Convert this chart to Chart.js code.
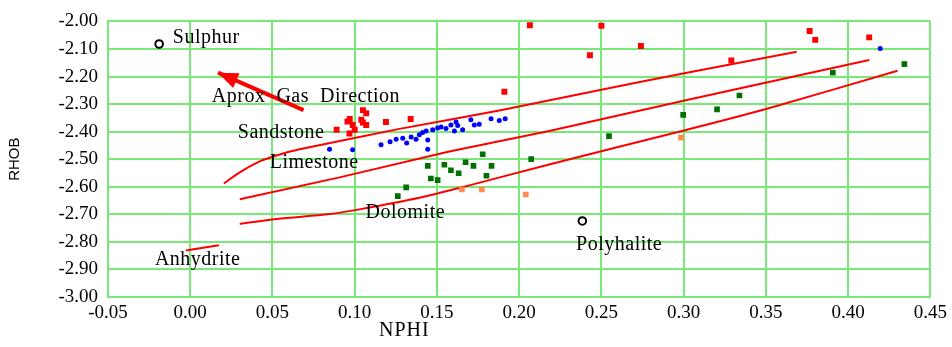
<!DOCTYPE html>
<html>
<head>
<meta charset="utf-8">
<script src="https://cdn.jsdelivr.net/npm/chart.js@4.4.0/dist/chart.umd.min.js"></script>
<style>
  html, body { margin: 0; padding: 0; background: #fff; }
</style>
</head>
<body>
<canvas id="chart" width="952" height="347"></canvas>
<script>
// NPHI / RHOB crossplot
const xTicks = [-0.05, 0.45, 0.05]   // min, max, step
const yTicks = [-3.0, -2.0, 0.1]

const redPoints = [
  [0.097, -2.354], [0.0956, -2.363], [0.0988, -2.376], [0.105, -2.322], [0.107, -2.333],
  [0.104, -2.357], [0.105, -2.367], [0.107, -2.376], [0.100, -2.393], [0.0968, -2.407],
  [0.089, -2.393], [0.119, -2.365], [0.134, -2.354], [0.191, -2.255], [0.2065, -2.014],
  [0.250, -2.016], [0.243, -2.123], [0.274, -2.089], [0.329, -2.142], [0.3766, -2.035],
  [0.380, -2.067], [0.4128, -2.058]
]
const bluePoints = [
  [0.0847, -2.464], [0.0987, -2.466], [0.116, -2.448], [0.1215, -2.437], [0.1252, -2.428],
  [0.1292, -2.424], [0.1316, -2.441], [0.1343, -2.419], [0.1373, -2.428], [0.1393, -2.411],
  [0.1413, -2.403], [0.1434, -2.398], [0.1444, -2.430], [0.1444, -2.464], [0.1474, -2.393],
  [0.1504, -2.387], [0.1525, -2.383], [0.1555, -2.389], [0.1585, -2.376], [0.1616, -2.365],
  [0.1626, -2.378], [0.1606, -2.398], [0.1656, -2.393], [0.1706, -2.357], [0.1727, -2.376],
  [0.1757, -2.373], [0.1829, -2.353], [0.1879, -2.360], [0.1915, -2.353], [0.4195, -2.098]
]
const greenPoints = [
  [0.1262, -2.634], [0.1313, -2.602], [0.1444, -2.524], [0.1463, -2.570], [0.1504, -2.576],
  [0.1545, -2.520], [0.1585, -2.540], [0.1632, -2.551], [0.1674, -2.511], [0.1722, -2.524],
  [0.1778, -2.482], [0.1801, -2.560], [0.1832, -2.524], [0.2073, -2.500], [0.2546, -2.416],
  [0.2997, -2.339], [0.3203, -2.319], [0.3339, -2.269], [0.3907, -2.186], [0.4342, -2.155]
]
const orangePoints = [[0.1652, -2.610], [0.1773, -2.610], [0.204, -2.628], [0.2984, -2.422]]
const mineralPoints = [[-0.0189, -2.082], [0.2384, -2.724]]  // Sulphur, Polyhalite

const sandstoneLine = [
  [0.0204, -2.588], [0.0301, -2.548], [0.0422, -2.508], [0.0544, -2.483], [0.0665, -2.464],
  [0.1272, -2.390], [0.1879, -2.323], [0.2522, -2.245], [0.302, -2.186], [0.3687, -2.110]
]
const limestoneLine = [
  [0.0301, -2.645], [0.0908, -2.566], [0.1575, -2.472], [0.2182, -2.398], [0.302, -2.285],
  [0.3517, -2.220], [0.4128, -2.140]
]
const dolomiteLine = [
  [0.0301, -2.735], [0.0525, -2.717], [0.0847, -2.699], [0.1029, -2.682], [0.1393, -2.640],
  [0.1697, -2.595], [0.2182, -2.519], [0.302, -2.393], [0.3517, -2.315], [0.43, -2.179]
]
const anhydriteLine = [[-0.0027, -2.831], [0.0174, -2.812]]
const gasArrow = [[0.0689, -2.322], [0.0169, -2.186]]

const labelTexts = ["Sulphur", "Aprox  Gas  Direction", "Sandstone", "Limestone", "Dolomite", "Polyhalite", "Anhydrite"]
const labelAt = [
  [-0.0106, -2.061], [0.0131, -2.272], [0.0289, -2.404], [0.0483, -2.512],
  [0.1066, -2.696], [0.2346, -2.809], [-0.0215, -2.865]
]
const xTitle = ["NPHI", 0.1302]

const green = "#78e878"
const serif = '"Liberation Serif", "Times New Roman", serif'
const toXY = arr => arr.map(p => ({ x: p[0], y: p[1] }))
const fmt = v => (Math.abs(v) < 1e-9 ? 0 : v).toFixed(2)

const pts = (data, color, style, r) => ({
  data: toXY(data), showLine: false, pointStyle: style, pointRadius: r,
  backgroundColor: color, borderColor: color, borderWidth: 0
})
const line = (data, width, tension) => ({
  data: toXY(data), showLine: true, pointRadius: 0, borderColor: "#ff0000",
  borderWidth: width, tension: tension, fill: false
})

const annotations = {
  id: "annotations",
  afterDatasetsDraw(chart) {
    const { ctx, scales: { x, y } } = chart
    ctx.save()
    // arrow head at the end of the gas arrow
    const x0 = x.getPixelForValue(gasArrow[0][0]), y0 = y.getPixelForValue(gasArrow[0][1])
    const x1 = x.getPixelForValue(gasArrow[1][0]), y1 = y.getPixelForValue(gasArrow[1][1])
    const a = Math.atan2(y1 - y0, x1 - x0)
    ctx.fillStyle = "#ff0000"
    ctx.beginPath()
    ctx.moveTo(x1, y1)
    ctx.lineTo(x1 - 20 * Math.cos(a) + 8 * Math.sin(a), y1 - 20 * Math.sin(a) - 8 * Math.cos(a))
    ctx.lineTo(x1 - 20 * Math.cos(a) - 8 * Math.sin(a), y1 - 20 * Math.sin(a) + 8 * Math.cos(a))
    ctx.closePath()
    ctx.fill()

    ctx.fillStyle = "#000"
    ctx.font = "20px " + serif
    ctx.letterSpacing = "0.5px"
    ctx.textAlign = "left"
    ctx.textBaseline = "middle"
    labelTexts.forEach((t, i) => {
      ctx.fillText(t, x.getPixelForValue(labelAt[i][0]), y.getPixelForValue(labelAt[i][1]))
    })
    // x axis title
    ctx.letterSpacing = "1px"
    ctx.textAlign = "center"
    ctx.fillText(xTitle[0], x.getPixelForValue(xTitle[1]), x.top + 34)
    ctx.restore()
  }
}

new Chart(document.getElementById("chart"), {
  type: "scatter",
  data: {
    datasets: [
      { data: toXY(mineralPoints), showLine: false, pointStyle: "circle", pointRadius: 3.8,
        backgroundColor: "#fff", borderColor: "#000", borderWidth: 2 },
      pts(redPoints, "#ff0000", "rect", 4.2),
      pts(bluePoints, "#0000ff", "circle", 2.5),
      pts(greenPoints, "#007000", "rect", 4),
      pts(orangePoints, "#ff8a4c", "rect", 4),
      line(gasArrow, 4, 0),
      line(sandstoneLine, 2, 0.2),
      line(limestoneLine, 2, 0),
      line(dolomiteLine, 2, 0.3),
      line(anhydriteLine, 2, 0)
    ]
  },
  options: {
    responsive: false,
    animation: false,
    layout: { padding: { top: 14, right: 20, left: 0, bottom: 0 } },
    plugins: { legend: { display: false }, tooltip: { enabled: false } },
    scales: {
      x: {
        type: "linear", min: xTicks[0], max: xTicks[1],
        ticks: { stepSize: xTicks[2], padding: 5, color: "#000", maxRotation: 0, autoSkip: false,
                 font: { family: serif, size: 19 }, callback: v => fmt(v) },
        grid: { color: green, lineWidth: 2, drawTicks: false },
        border: { color: green, width: 2 },
        afterFit(s) { s.height = 50 }
      },
      y: {
        type: "linear", min: yTicks[0], max: yTicks[1],
        ticks: { stepSize: yTicks[2], padding: 10, color: "#000", autoSkip: false,
                 font: { family: serif, size: 19 }, callback: v => fmt(v) },
        grid: { color: green, lineWidth: 2, drawTicks: false },
        border: { color: green, width: 2 },
        title: { display: true, text: "RHOB", color: "#000", padding: { top: 6, bottom: 0 },
                 font: { family: '"Liberation Sans Narrow", "Liberation Sans", sans-serif', size: 15 } },
        afterFit(s) { s.width = 108 }
      }
    }
  },
  plugins: [annotations]
})
</script>
</body>
</html>
